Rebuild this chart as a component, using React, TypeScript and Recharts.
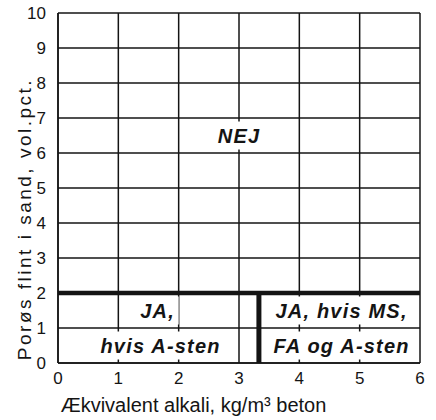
import {
  LineChart,
  Line,
  XAxis,
  YAxis,
  CartesianGrid,
  ReferenceArea,
} from 'recharts';

// akser
const alkaliTicks = [0, 1, 2, 3, 4, 5, 6];
const flintTicks = [0, 1, 2, 3, 4, 5, 6, 7, 8, 9, 10];

// grænser
const flintLimit = [
  { alkali: 0, flint: 2 },
  { alkali: 6, flint: 2 },
];
const alkaliLimit = [
  { alkali: 3.33, flint: 0 },
  { alkali: 3.33, flint: 2 },
];

// områdetekster (x1..x2, y1..y2 er den hvide baggrund bag teksten)
const regionLabels = [
  { text: 'NEJ', x1: 2.55, x2: 3.45, y1: 6.1, y2: 6.9 },
  { text: 'JA,', x1: 1.3, x2: 2.0, y1: 1.1, y2: 1.9 },
  { text: 'hvis A-sten', x1: 0.65, x2: 2.75, y1: 0.1, y2: 0.9 },
  { text: 'JA, hvis MS,', x1: 3.55, x2: 5.85, y1: 1.1, y2: 1.9 },
  { text: 'FA og A-sten', x1: 3.55, x2: 5.85, y1: 0.1, y2: 0.9 },
];

const FONT = '"Liberation Sans", Arial, Helvetica, sans-serif';
const INK = '#141414';

const regionText = (text: string) => (props: any) => {
  const vb = props.viewBox;
  if (!vb) return null;
  return (
    <text
      x={vb.x + vb.width / 2}
      y={vb.y + vb.height / 2 + 7}
      textAnchor="middle"
      fontFamily={FONT}
      fontSize={20}
      fontWeight="bold"
      fontStyle="italic"
      letterSpacing={1.2}
      fill={INK}
    >
      {text}
    </text>
  );
};

export default function App() {
  return (
    <div style={{ position: 'absolute', left: 0, top: 0, background: '#fff' }}>
      <LineChart
        width={436}
        height={420}
        margin={{ top: 13, right: 16, left: 0, bottom: 0 }}
      >
        <CartesianGrid stroke={INK} strokeWidth={1.5} />
        <XAxis
          dataKey="alkali"
          type="number"
          domain={[0, 6]}
          ticks={alkaliTicks}
          height={57}
          tickLine={false}
          axisLine={{ stroke: INK, strokeWidth: 1.5 }}
          tickSize={0}
          tickMargin={9}
          tick={{ fill: INK, fontSize: 17, fontFamily: FONT }}
          label={{
            value: 'Ækvivalent alkali, kg/m³ beton',
            content: (props: any) => {
              const vb = props.viewBox;
              return (
                <text
                  x={vb.x + 135.5}
                  y={412}
                  textAnchor="middle"
                  fontFamily={FONT}
                  fontSize={20}
                  fill={INK}
                >
                  Ækvivalent alkali, kg/m³ beton
                </text>
              );
            },
          }}
        />
        <YAxis
          dataKey="flint"
          type="number"
          domain={[0, 10]}
          ticks={flintTicks}
          width={58}
          tickLine={false}
          axisLine={{ stroke: INK, strokeWidth: 1.5 }}
          tickSize={0}
          tickMargin={12}
          tick={{ fill: INK, fontSize: 17, fontFamily: FONT }}
          label={{
            value: 'Porøs flint i sand, vol.pct.',
            content: (props: any) => {
              const vb = props.viewBox;
              const cx = 31;
              const cy = vb.y + vb.height / 2 + 31;
              return (
                <text
                  x={cx}
                  y={cy}
                  transform={`rotate(-90 ${cx} ${cy})`}
                  textAnchor="middle"
                  fontFamily={FONT}
                  fontSize={19}
                  letterSpacing={2.5}
                  fill={INK}
                >
                  Porøs flint i sand, vol.pct.
                </text>
              );
            },
          }}
        />
        {regionLabels.map((r) => (
          <ReferenceArea
            key={r.text}
            x1={r.x1}
            x2={r.x2}
            y1={r.y1}
            y2={r.y2}
            fill="#fff"
            fillOpacity={1}
            stroke="none"
            label={{ content: regionText(r.text) }}
          />
        ))}
        <Line
          data={flintLimit}
          dataKey="flint"
          stroke={INK}
          strokeWidth={4.5}
          dot={false}
          isAnimationActive={false}
        />
        <Line
          data={alkaliLimit}
          dataKey="flint"
          stroke={INK}
          strokeWidth={5}
          dot={false}
          isAnimationActive={false}
        />
      </LineChart>
    </div>
  );
}
